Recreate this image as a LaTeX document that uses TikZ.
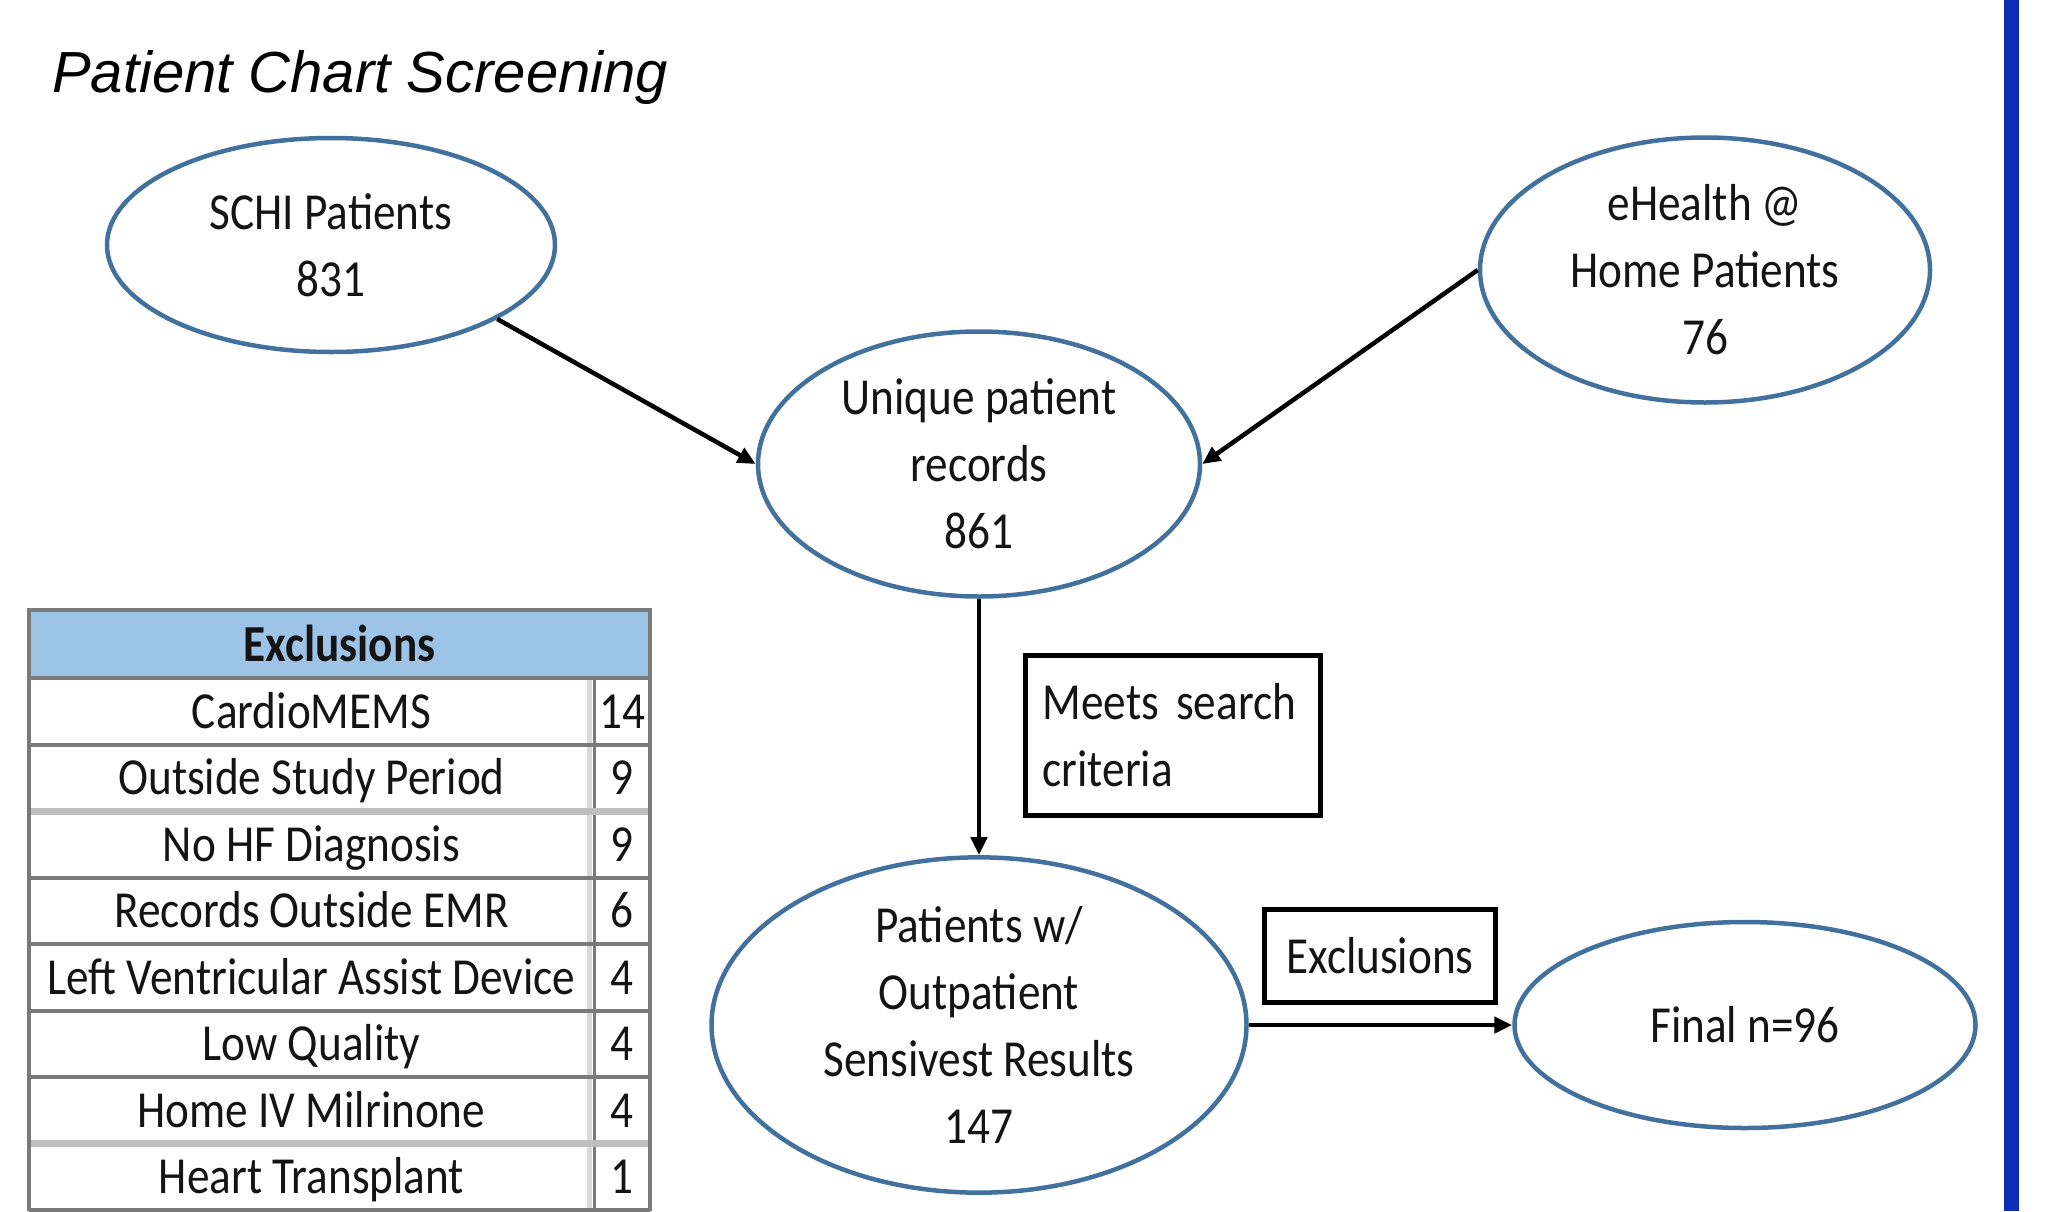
\documentclass[tikz,border=0pt]{standalone}
\usepackage{fontspec}
\usetikzlibrary{shapes.geometric,arrows.meta}
\newfontfamily\calfont[FakeStretch=0.87]{Carlito}
\newfontfamily\arialfont{Liberation Sans}
\definecolor{ellblue}{HTML}{41719C}
\definecolor{headblue}{HTML}{9DC3E6}
\definecolor{barblue}{HTML}{0C2DB8}
\definecolor{rulegray}{HTML}{7A7A7A}
\definecolor{lightrule}{HTML}{BFBFBF}
\definecolor{txt}{HTML}{141414}
\tikzset{
  bodyfont/.style={font=\calfont\fontsize{52}{67}\selectfont, text=txt},
  oval/.style={ellipse, draw=ellblue, line width=4.5pt, inner sep=0pt,
    align=center, bodyfont},
  labelbox/.style={rectangle, draw=black, line width=5pt, inner sep=0pt,
    bodyfont},
  flow/.style={line width=4.5pt, draw=black,
    -{Triangle[length=18pt,width=16pt]}},
  cell/.style={anchor=base, inner sep=0pt, bodyfont},
  hrule/.style={draw=rulegray, line width=4pt},
  lrule/.style={draw=lightrule, line width=7pt},
}
\begin{document}
\begin{tikzpicture}[x=1pt, y=-1pt]
\useasboundingbox (0,0) rectangle (2045,1211);

% title
\node[anchor=base west, inner sep=0pt,
      font=\arialfont\itshape\fontsize{58}{70}\selectfont] (title)
      at (52,92) {Patient Chart Screening};

% flow nodes
\node[oval, minimum width=448pt, minimum height=214pt] (schi) at (331,245)
  {SCHI Patients\\831};
\node[oval, minimum width=450pt, minimum height=265pt] (ehealth) at (1705,270)
  {eHealth @\\Home Patients\\76};
\node[oval, minimum width=442pt, minimum height=265pt] (uniq) at (979,464)
  {Unique patient\\records\\861};
\node[oval, minimum width=535pt, minimum height=280pt] (pat) at (979,1025)
  {Patients w/\\Outpatient\\Sensivest Results\\147};
\node[oval, minimum width=461pt, minimum height=206pt] (final) at (1745,1025)
  {Final n=96};

% label boxes
\node[labelbox, minimum width=295pt, minimum height=160pt,
      text width=260pt, align=left] (meets) at (1172.5,735)
  {\mbox{Meets search}\\criteria};
\node[labelbox, minimum width=231pt, minimum height=93pt] (exbox) at (1380,956)
  {Exclusions};

% connectors
\draw[flow] (schi.-24.5) -- (uniq.west);
\draw[flow] (ehealth.west) -- (uniq.east);
\draw[flow] (uniq.south) -- (pat.north);
\draw[flow] (pat.east) -- (final.west);

% exclusions table
\fill[headblue] (29,610) rectangle (650,678);
\node[anchor=base, inner sep=0pt,
      font=\calfont\bfseries\fontsize{52}{67}\selectfont, text=txt]
      (thead) at (339.5,661) {Exclusions};
\foreach \name/\num [count=\i from 0] in {
    CardioMEMS/14,
    Outside Study Period/9,
    No HF Diagnosis/9,
    Records Outside EMR/6,
    Left Ventricular Assist Device/4,
    Low Quality/4,
    Home IV Milrinone/4,
    Heart Transplant/1}{
  \pgfmathsetmacro{\yc}{711.25+66.5*\i}
  \node[cell] (lab\i) at (311.5,\yc+17) {\name};
  \node[cell] (num\i) at (622,\yc+17) {\num};
}
% rules
\draw[draw=lightrule!60, line width=5pt] (589,678) -- (589,1210);
\draw[hrule, line width=3pt] (594,678) -- (594,1210);
\foreach \y in {678,744.5,877.5,944,1010.5,1077,1210}
  \draw[hrule] (29,\y) -- (650,\y);
\foreach \y in {811,1143.5}
  \draw[lrule] (29,\y) -- (650,\y);
\draw[hrule] (29,610) -- (650,610);
\draw[hrule] (29,608) -- (29,1211);
\draw[hrule] (650,608) -- (650,1211);

% right margin bar
\fill[barblue] (2004,0) rectangle (2019,1211);
\end{tikzpicture}
\end{document}
